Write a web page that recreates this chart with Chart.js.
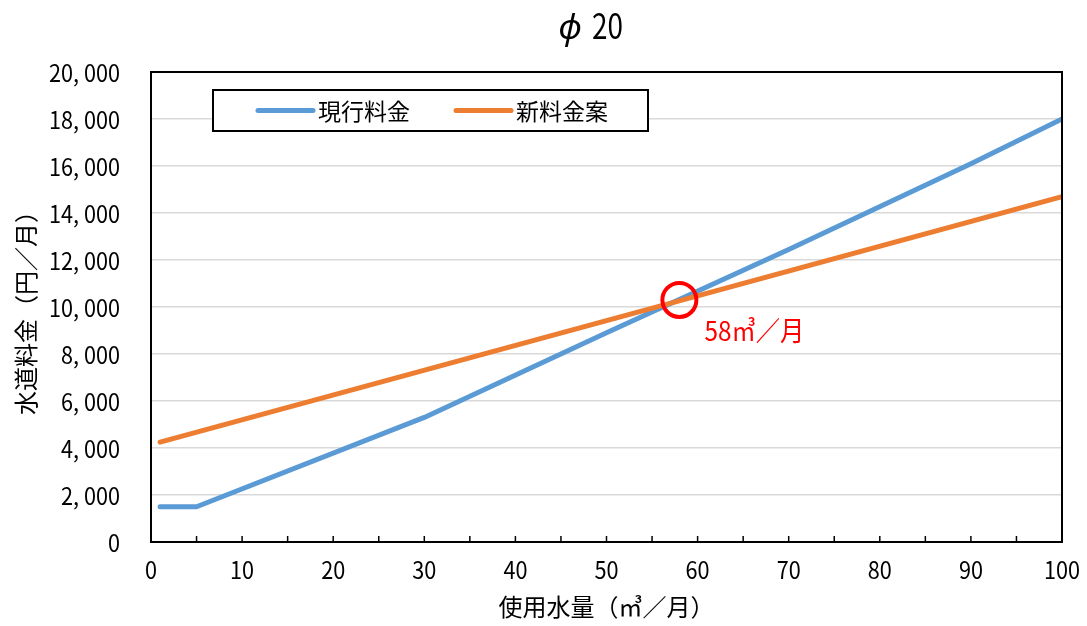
<!DOCTYPE html>
<html lang="ja">
<head>
<meta charset="utf-8">
<title>φ20 水道料金</title>
<script src="https://cdn.jsdelivr.net/npm/chart.js@4/dist/chart.umd.min.js"></script>
<style>
  html, body { margin: 0; padding: 0; background: #ffffff; }
  #wrap { width: 1087px; height: 626px; }
</style>
</head>
<body>
<div id="wrap"><canvas id="chart" width="1087" height="626"></canvas></div>
<script>
// 現行料金 (break points of the tariff, m³ → 円)
const currentUsage = [1, 5, 30, 50, 70, 90, 100];
const currentFee = [1500, 1500, 5300, 8900, 12450, 16100, 18000];

// 新料金案
const proposedUsage = [1, 100];
const proposedFee = [4250, 14700];

// 料金が逆転する使用水量
const crossUsage = 58;
const crossFee = 10300;
const crossLabel = '58㎥／月';

const seriesNames = ['現行料金', '新料金案'];
const titleSymbol = 'ϕ';
const titleSize = '20';
const xTitle = '使用水量（㎥／月）';
const yTitle = '水道料金（円／月）';

const JP = "'Noto Sans CJK JP', 'Noto Sans', sans-serif";

const toPoints = (xs, ys) => xs.map((x, i) => ({ x: x, y: ys[i] }));
const fmtYen = v => v.toLocaleString('en-US').replace(',', ', ');

// draws text squeezed horizontally to look like a narrow gothic face
function narrowText(ctx, text, x, y, align, sx) {
  ctx.save();
  ctx.translate(x, y);
  ctx.scale(sx, 1);
  ctx.textAlign = align;
  ctx.fillText(text, 0, 0);
  ctx.restore();
}
function squeezeFor(ctx, text, width) {
  return Math.min(1, width / ctx.measureText(text).width);
}

// title, tick labels, frame, inward x tick marks, boxed legend and crossover label
const decorations = {
  id: 'decorations',
  afterDatasetsDraw(chart) {
    const { ctx, chartArea: a, scales } = chart;
    ctx.save();

    // title: slanted diameter sign followed by the size
    ctx.fillStyle = '#000';
    ctx.textBaseline = 'middle';
    ctx.font = 'italic 35px ' + JP;
    narrowText(ctx, titleSymbol, 570, 26, 'center', squeezeFor(ctx, titleSymbol, 26));
    ctx.font = '35px ' + JP;
    narrowText(ctx, titleSize, 592, 26, 'left', squeezeFor(ctx, titleSize, 31));

    // tick labels
    ctx.font = '24px ' + JP;
    const sx = squeezeFor(ctx, fmtYen(20000), 71);
    scales.y.ticks.forEach(t => {
      narrowText(ctx, fmtYen(t.value), a.left - 31, scales.y.getPixelForValue(t.value) + 1, 'right', sx);
    });
    scales.x.ticks.forEach(t => {
      if (t.value % 10 !== 0) return;
      narrowText(ctx, String(t.value), scales.x.getPixelForValue(t.value), a.bottom + 28, 'center', sx);
    });

    // inward tick marks on the x axis
    ctx.strokeStyle = '#000';
    ctx.lineWidth = 1.5;
    scales.x.ticks.forEach(t => {
      const px = scales.x.getPixelForValue(t.value);
      ctx.beginPath();
      ctx.moveTo(px, a.bottom);
      ctx.lineTo(px, a.bottom - 6);
      ctx.stroke();
    });

    // plot frame
    ctx.lineWidth = 2;
    ctx.strokeRect(a.left, a.top, a.right - a.left, a.bottom - a.top);

    // legend box
    const lx = a.left + 62, ly = a.top + 18, lw = 435, lh = 41;
    ctx.fillStyle = '#fff';
    ctx.fillRect(lx, ly, lw, lh);
    ctx.strokeStyle = '#000';
    ctx.lineWidth = 2;
    ctx.strokeRect(lx, ly, lw, lh);
    const cy = ly + lh / 2;
    const items = [
      { ds: chart.data.datasets[0], x: lx + 45 },
      { ds: chart.data.datasets[1], x: lx + 243 }
    ];
    ctx.font = '23px ' + JP;
    ctx.textBaseline = 'middle';
    ctx.textAlign = 'left';
    items.forEach(it => {
      ctx.strokeStyle = it.ds.borderColor;
      ctx.lineWidth = 5;
      ctx.lineCap = 'round';
      ctx.beginPath();
      ctx.moveTo(it.x, cy);
      ctx.lineTo(it.x + 55, cy);
      ctx.stroke();
      ctx.fillStyle = '#000';
      ctx.fillText(it.ds.label, it.x + 60, cy + 1);
    });

    // crossover label
    const px = scales.x.getPixelForValue(crossUsage);
    const py = scales.y.getPixelForValue(crossFee);
    ctx.fillStyle = '#ff0000';
    ctx.font = '27px ' + JP;
    ctx.textBaseline = 'middle';
    narrowText(ctx, crossLabel, px + 25, py + 31, 'left', squeezeFor(ctx, crossLabel, 100));

    ctx.restore();
  }
};

new Chart(document.getElementById('chart'), {
  type: 'line',
  data: {
    datasets: [
      {
        label: seriesNames[0],
        data: toPoints(currentUsage, currentFee),
        borderColor: '#5b9bd5',
        borderWidth: 5,
        borderCapStyle: 'round',
        borderJoinStyle: 'round',
        pointRadius: 0,
        tension: 0,
        order: 2
      },
      {
        label: seriesNames[1],
        data: toPoints(proposedUsage, proposedFee),
        borderColor: '#ed7d31',
        borderWidth: 5,
        borderCapStyle: 'round',
        borderJoinStyle: 'round',
        pointRadius: 0,
        tension: 0,
        order: 1
      },
      {
        type: 'scatter',
        label: crossLabel,
        data: [{ x: crossUsage, y: crossFee }],
        pointRadius: 17,
        pointStyle: 'circle',
        borderColor: '#ff0000',
        backgroundColor: 'rgba(0,0,0,0)',
        pointBorderWidth: 4,
        borderWidth: 4,
        order: 0
      }
    ]
  },
  options: {
    responsive: false,
    animation: false,
    layout: { padding: { left: 0, right: 25, top: 72, bottom: 0 } },
    plugins: {
      legend: { display: false },
      tooltip: { enabled: false },
      title: { display: false }
    },
    scales: {
      x: {
        type: 'linear',
        min: 0,
        max: 100,
        afterFit(scale) { scale.height = 84; },
        grid: { display: false },
        border: { display: true, color: '#000', width: 2 },
        ticks: { display: false, stepSize: 5, autoSkip: false },
        title: {
          display: true,
          text: xTitle,
          color: '#000',
          font: { family: JP, size: 24 },
          padding: { top: 0, bottom: 5 }
        }
      },
      y: {
        min: 0,
        max: 20000,
        afterFit(scale) { scale.width = 151; },
        grid: { color: '#d9d9d9', lineWidth: 1.5, drawTicks: false },
        border: { display: true, color: '#000', width: 2 },
        ticks: { display: false, stepSize: 2000 },
        title: {
          display: true,
          text: yTitle,
          color: '#000',
          font: { family: JP, size: 24 },
          padding: { top: 11, bottom: 0 }
        }
      }
    }
  },
  plugins: [decorations]
});
</script>
</body>
</html>
